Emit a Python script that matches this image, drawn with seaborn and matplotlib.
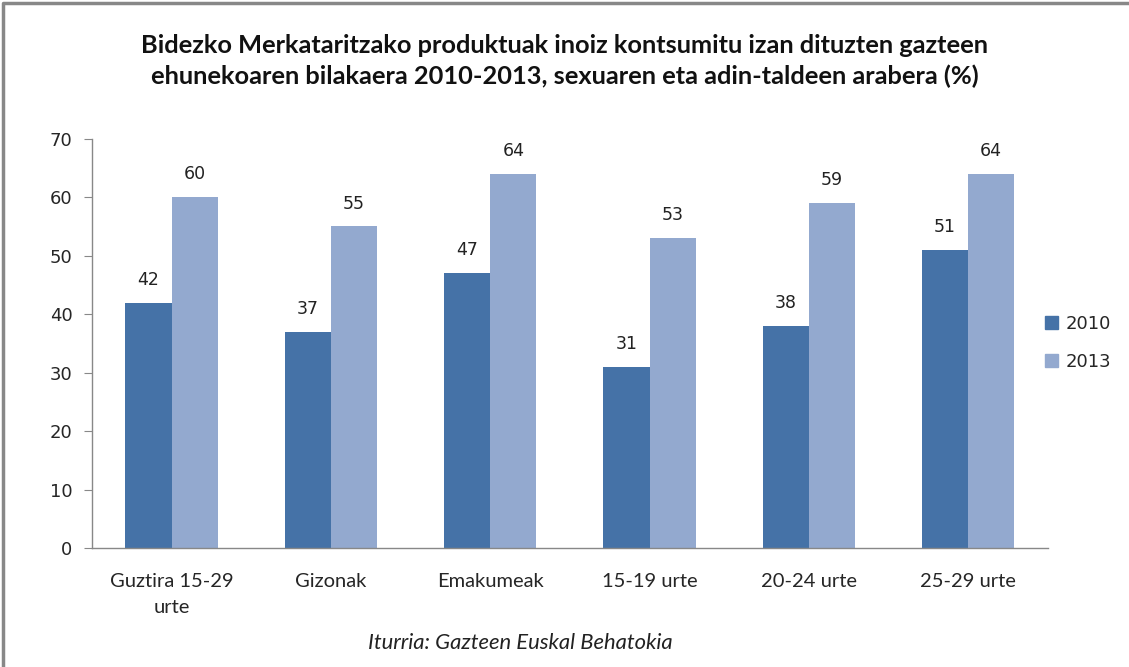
import pandas as pd
import matplotlib.pyplot as plt
import seaborn as sns
from matplotlib.lines import Line2D
from matplotlib.patches import Patch

categories = ['Guztira 15-29\nurte', 'Gizonak', 'Emakumeak', '15-19 urte', '20-24 urte', '25-29 urte']
years = ['2010', '2013']
values_2010 = [42, 37, 47, 31, 38, 51]
values_2013 = [60, 55, 64, 53, 59, 64]

df = pd.DataFrame({
    'cat': categories * 2,
    'year': [years[0]] * 6 + [years[1]] * 6,
    'value': values_2010 + values_2013,
})

colors = {'2010': '#4572A7', '2013': '#93A9CF'}
narrow = ['Lato', 'DejaVu Sans']

sns.set_style('white')
fig = plt.figure(figsize=(11.29, 6.67), dpi=100)
ax = fig.add_axes([0.0815, 0.178, 0.8465, 0.614])

sns.barplot(data=df, x='cat', y='value', hue='year', palette=colors,
            width=0.58, gap=0, saturation=1, linewidth=0, ax=ax, legend=False)

for cont in ax.containers:
    ax.bar_label(cont, padding=10, fontsize=12.5, family='DejaVu Sans', color='#222222')

ax.set_ylim(0, 70)
ax.set_yticks(range(0, 71, 10))
ax.set_xlim(-0.5, 5.5)
ax.set_xlabel('')
ax.set_ylabel('')
for s in ['top', 'right']:
    ax.spines[s].set_visible(False)
for s in ['left', 'bottom']:
    ax.spines[s].set_color('#888888')
    ax.spines[s].set_linewidth(1)
ax.set_xticks([x - 0.5 for x in range(7)], minor=True)
ax.tick_params(axis='x', which='major', length=0, pad=18)
ax.tick_params(axis='x', which='minor', length=6, color='#888888')
ax.tick_params(axis='y', length=6, color='#888888', labelsize=13, pad=8, left=True)
for lab in ax.get_xticklabels():
    lab.set_family(narrow)
    lab.set_fontsize(14.5)
    lab.set_linespacing(1.6)
for lab in ax.get_yticklabels():
    lab.set_family('DejaVu Sans')

handles = [Patch(color=colors[y], label=y) for y in years]
fig.legend(handles=handles, loc='center left', bbox_to_anchor=(0.926, 0.486),
           frameon=False, prop={'family': 'DejaVu Sans', 'size': 13},
           handlelength=0.7, handleheight=0.7, handletextpad=0.4, labelspacing=1.1,
           borderaxespad=0, borderpad=0)

fig.text(0.5, 0.909, 'Bidezko Merkataritzako produktuak inoiz kontsumitu izan dituzten gazteen\n'
         'ehunekoaren bilakaera 2010-2013, sexuaren eta adin-taldeen arabera (%)',
         ha='center', va='center', fontsize=18.3, fontweight='bold', family=narrow,
         linespacing=1.4, color='#111111')
fig.text(0.461, 0.036, 'Iturria: Gazteen Euskal Behatokia', ha='center', va='center',
         fontsize=15.8, style='italic', family=narrow, color='#222222')

fig.add_artist(Line2D([0.003, 0.003, 1.0], [0.0, 0.996, 0.996], transform=fig.transFigure,
                      color='#888888', linewidth=2.5))

fig.savefig('out.png', dpi=100)
